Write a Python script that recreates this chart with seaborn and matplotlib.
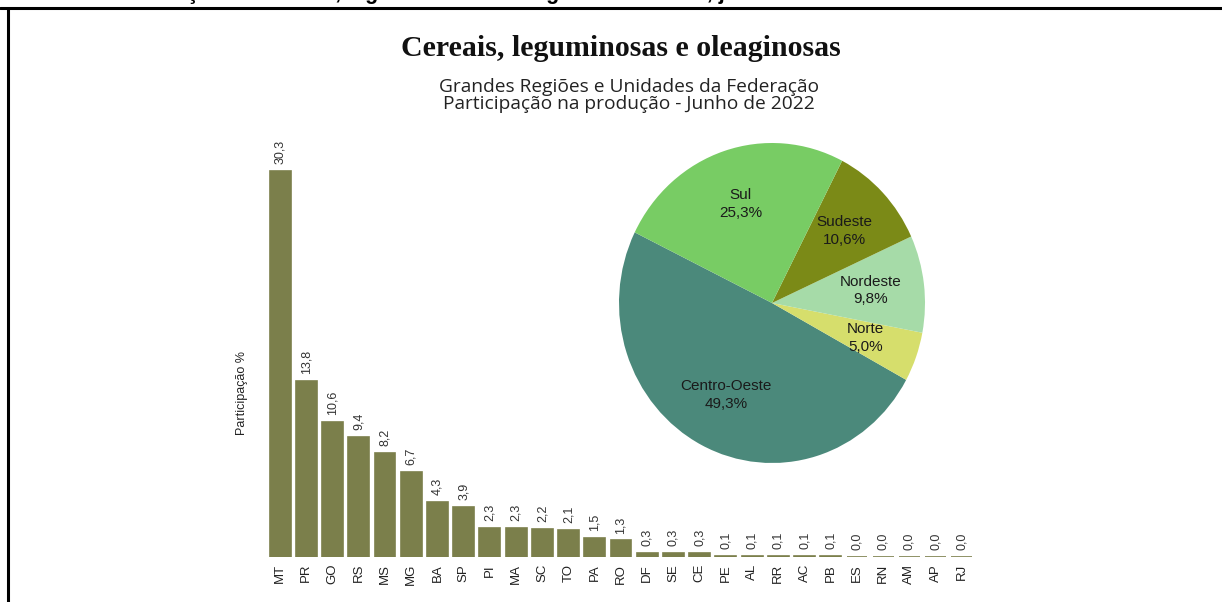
import numpy as np
import pandas as pd
import seaborn as sns
import matplotlib.pyplot as plt
from matplotlib.lines import Line2D

# Data
states = ['MT', 'PR', 'GO', 'RS', 'MS', 'MG', 'BA', 'SP', 'PI', 'MA', 'SC', 'TO', 'PA', 'RO',
          'DF', 'SE', 'CE', 'PE', 'AL', 'RR', 'AC', 'PB', 'ES', 'RN', 'AM', 'AP', 'RJ']
shares = [30.3, 13.8, 10.6, 9.4, 8.2, 6.7, 4.3, 3.9, 2.3, 2.3, 2.2, 2.1, 1.5, 1.3,
          0.3, 0.3, 0.3, 0.1, 0.1, 0.1, 0.1, 0.1, 0.0, 0.0, 0.0, 0.0, 0.0]

regions = ['Centro-Oeste', 'Norte', 'Nordeste', 'Sudeste', 'Sul']
region_shares = [49.3, 5.0, 9.8, 10.6, 25.3]
region_colors = ['#4b897b', '#d6de6c', '#a6dba8', '#7b8a17', '#78cc64']

bar_color = '#7b7f4b'

sns.set_style('white')
plt.rcParams['font.family'] = ['Liberation Sans', 'DejaVu Sans']

fig = plt.figure(figsize=(12.22, 6.02), dpi=100)

# frame lines (top and left) like the page box
fig.add_artist(Line2D([0, 1], [1 - 8 / 602, 1 - 8 / 602], transform=fig.transFigure, color='black', lw=2.2))
fig.add_artist(Line2D([8 / 1222, 8 / 1222], [0, 1 - 8 / 602], transform=fig.transFigure, color='black', lw=2.2))

# caption above the box, cut off by the crop of the page
fig.text(12 / 1222, 1 + 1 / 602, 'Gráfico 3 - Produção de cereais, leguminosas e oleaginosas - Brasil, junho de 2022',
         ha='left', va='baseline', fontsize=15.5, fontweight='bold', color='black')

# titles
fig.text(0.508, 1 - 48 / 602, 'Cereais, leguminosas e oleaginosas', ha='center', va='center',
         fontsize=21.5, fontweight='bold', family='Liberation Serif', color='#111111')
fig.text(0.515, 1 - 95.5 / 602, 'Grandes Regiões e Unidades da Federação\nParticipação na produção - Junho de 2022',
         ha='center', va='center', multialignment='center', linespacing=0.88,
         fontsize=13.8, family='Open Sans', color='#222222')

# bar chart
ax = fig.add_axes([267 / 1222, 1 - 557 / 602, 708 / 1222, 0.698])
df = pd.DataFrame({'uf': states, 'share': shares})
sns.barplot(data=df, x='uf', y='share', color=bar_color, saturation=1, width=0.8,
            linewidth=1.2, edgecolor=bar_color, ax=ax)
ax.set_xlim(-0.5, len(states) - 0.5)
ax.set_ylim(0, 33)
labels = [f'{v:.1f}'.replace('.', ',') for v in shares]
ax.bar_label(ax.containers[0], labels=labels, rotation=90, padding=5, fontsize=9, color='#333333')
ax.set_yticks([])
ax.set_xlabel('')
ax.set_ylabel('Participação %', fontsize=9, color='#222222')
ax.yaxis.set_label_coords(-0.027, 0.39)
ax.tick_params(axis='x', rotation=90, labelsize=9.5, length=0, pad=5, colors='#222222')
sns.despine(ax=ax, left=True, bottom=True)

# pie chart
pax = fig.add_axes([(772 - 191.25) / 1222, 1 - (303 + 200) / 602, 382.5 / 1222, 400 / 602])
pax.patch.set_alpha(0)
pie_labels = [f'{r}\n{s:.1f}%'.replace('.', ',') for r, s in zip(regions, region_shares)]
wedges, texts = pax.pie(region_shares, colors=region_colors, startangle=153.8, counterclock=True,
                        labels=pie_labels, labeldistance=0.65,
                        wedgeprops=dict(linewidth=0),
                        textprops=dict(fontsize=11, color='#1a1a1a', ha='center', va='center',
                                       linespacing=1.35))
pax.set_xlim(-1.25, 1.25)
pax.set_ylim(-1.25, 1.25)
pax.set_aspect('auto')

fig.savefig('out.png', dpi=100)
